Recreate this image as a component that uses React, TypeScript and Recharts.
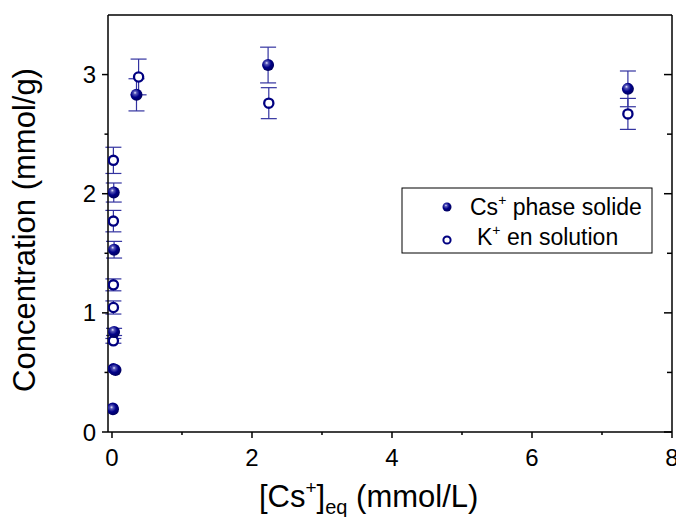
import {
  ErrorBar,
  Label,
  Scatter,
  ScatterChart,
  XAxis,
  YAxis,
} from "recharts";

// Cs+ fixé (phase solide)
const csX = [0.014, 0.05, 0.03, 0.03, 0.025, 0.35, 2.23, 7.37];
const csY = [0.19, 0.52, 0.84, 1.53, 2.01, 2.83, 3.08, 2.88];
const csErr = [0, 0, 0.03, 0.07, 0.08, 0.135, 0.15, 0.15];

// K+ relargué (en solution)
const kX = [0.012, 0.02, 0.02, 0.02, 0.02, 0.02, 0.02, 0.38, 2.24, 7.37];
const kY = [0.2, 0.53, 0.765, 1.045, 1.235, 1.77, 2.28, 2.98, 2.76, 2.67];
const kErr = [0, 0, 0.02, 0.055, 0.05, 0.09, 0.11, 0.15, 0.13, 0.13];

const xTicks = [0, 1, 2, 3, 4, 5, 6, 7, 8];
const yTicks = [0, 0.5, 1, 1.5, 2, 2.5, 3];

const NAVY = "#000080";
const BAR = "#3333a0";
const FONT = "'Liberation Sans', Arial, sans-serif";

const csData = csX.map((x, i) => ({ x, y: csY[i], err: csErr[i] }));
const kData = kX.map((x, i) => ({ x, y: kY[i], err: kErr[i] }));

function SphereDefs() {
  return (
    <defs>
      <radialGradient id="sphere" cx="40%" cy="38%" r="60%" fx="38%" fy="32%">
        <stop offset="0%" stopColor="#e8e8ff" />
        <stop offset="22%" stopColor="#5656b8" />
        <stop offset="60%" stopColor="#000088" />
        <stop offset="100%" stopColor="#000060" />
      </radialGradient>
    </defs>
  );
}

function SolidDot(props: any) {
  const { cx, cy } = props;
  return (
    <g>
      <SphereDefs />
      <circle cx={cx} cy={cy} r={6} fill="url(#sphere)" />
    </g>
  );
}

function OpenDot(props: any) {
  const { cx, cy } = props;
  return (
    <circle cx={cx} cy={cy} r={4.6} fill="#fff" stroke={NAVY} strokeWidth={2.3} />
  );
}

function LeftTick({ x, y, payload }: any) {
  const v = payload.value;
  const major = Number.isInteger(v);
  return (
    <g>
      <line x1={x} x2={x - (major ? 6 : 3.5)} y1={y} y2={y} stroke="#000" strokeWidth={1.5} />
      {major && (
        <text x={x - 12} y={y + 8.5} textAnchor="end" fontSize={24} fontFamily={FONT} fill="#000">
          {v}
        </text>
      )}
    </g>
  );
}

function RightTick({ x, y, payload }: any) {
  const major = Number.isInteger(payload.value);
  return <line x1={x} x2={x - (major ? 8 : 5)} y1={y} y2={y} stroke="#000" strokeWidth={1.5} />;
}

function BottomTick({ x, y, payload }: any) {
  const v = payload.value;
  const major = v % 2 === 0;
  return (
    <g>
      <line x1={x} x2={x} y1={y} y2={y + (major ? 6 : 3)} stroke="#000" strokeWidth={1.5} />
      {major && (
        <text x={x} y={y + 34} textAnchor="middle" fontSize={24} fontFamily={FONT} fill="#000">
          {v}
        </text>
      )}
    </g>
  );
}

function TopTick({ x, y, payload }: any) {
  const major = payload.value % 2 === 0;
  return <line x1={x} x2={x} y1={y} y2={y + (major ? 8 : 5)} stroke="#000" strokeWidth={1.5} />;
}

function XTitle() {
  return (
    <text x={259} y={507} fontSize={31} fontFamily={FONT} fill="#000">
      [Cs
      <tspan fontSize={19} dy={-13}>+</tspan>
      <tspan dy={13}>]</tspan>
      <tspan fontSize={20} dy={7}>eq</tspan>
      <tspan dy={-7}> (mmol/L)</tspan>
    </text>
  );
}

function YTitle() {
  return (
    <text
      x={35}
      y={230}
      transform="rotate(-90, 35, 230)"
      textAnchor="middle"
      fontSize={31}
      fontFamily={FONT}
      fill="#000"
    >
      Concentration (mmol/g)
    </text>
  );
}

function LegendBox() {
  return (
    <svg
      width={252}
      height={67}
      style={{ position: "absolute", left: 401, top: 187, display: "block" }}
    >
      <SphereDefs />
      <rect x={1} y={1} width={250} height={65} fill="#fff" stroke="#000" strokeWidth={1} />
      <circle cx={46} cy={20} r={4.5} fill="url(#sphere)" />
      <text x={69} y={28} fontSize={23} fontFamily={FONT} fill="#000">
        Cs<tspan fontSize={14} dy={-10}>+</tspan>
        <tspan dy={10}> phase solide</tspan>
      </text>
      <circle cx={46} cy={53} r={3.6} fill="#fff" stroke={NAVY} strokeWidth={2} />
      <text x={76} y={58} fontSize={23} fontFamily={FONT} fill="#000">
        K<tspan fontSize={14} dy={-10}>+</tspan>
        <tspan dy={10}> en solution</tspan>
      </text>
    </svg>
  );
}

export default function App() {
  return (
    <div style={{ position: "fixed", left: 0, top: 0, width: 676, height: 517, background: "#fff" }}>
      <ScatterChart width={676} height={517} margin={{ top: 14, right: 3, bottom: 0, left: 0 }}>
        <XAxis
          type="number"
          dataKey="x"
          domain={[-0.057, 8]}
          allowDataOverflow
          ticks={xTicks}
          interval={0}
          height={85}
          tickSize={0}
          tickMargin={0}
          tickLine={false}
          axisLine={{ stroke: "#000", strokeWidth: 1.5 }}
          tick={<BottomTick />}
        >
          <Label content={<XTitle />} />
        </XAxis>
        <XAxis
          xAxisId="top"
          orientation="top"
          type="number"
          domain={[-0.057, 8]}
          allowDataOverflow
          ticks={xTicks}
          interval={0}
          height={1}
          tickSize={0}
          tickMargin={0}
          tickLine={false}
          axisLine={{ stroke: "#000", strokeWidth: 1.5 }}
          tick={<TopTick />}
        />
        <YAxis
          type="number"
          dataKey="y"
          domain={[0, 3.5]}
          allowDataOverflow
          ticks={yTicks}
          interval={0}
          width={108}
          tickSize={0}
          tickMargin={0}
          tickLine={false}
          axisLine={{ stroke: "#000", strokeWidth: 1.5 }}
          tick={<LeftTick />}
        >
          <Label content={<YTitle />} />
        </YAxis>
        <YAxis
          yAxisId="right"
          orientation="right"
          type="number"
          domain={[0, 3.5]}
          allowDataOverflow
          ticks={yTicks}
          interval={0}
          width={1}
          tickSize={0}
          tickMargin={0}
          tickLine={false}
          axisLine={{ stroke: "#000", strokeWidth: 1.5 }}
          tick={<RightTick />}
        />
        <Scatter name="K+ en solution" data={kData} shape={<OpenDot />} isAnimationActive={false}>
          <ErrorBar dataKey="err" direction="y" width={8} stroke={BAR} strokeWidth={1.2} />
        </Scatter>
        <Scatter name="Cs+ phase solide" data={csData} shape={<SolidDot />} isAnimationActive={false}>
          <ErrorBar dataKey="err" direction="y" width={8} stroke={BAR} strokeWidth={1.2} />
        </Scatter>
      </ScatterChart>
      <LegendBox />
    </div>
  );
}
